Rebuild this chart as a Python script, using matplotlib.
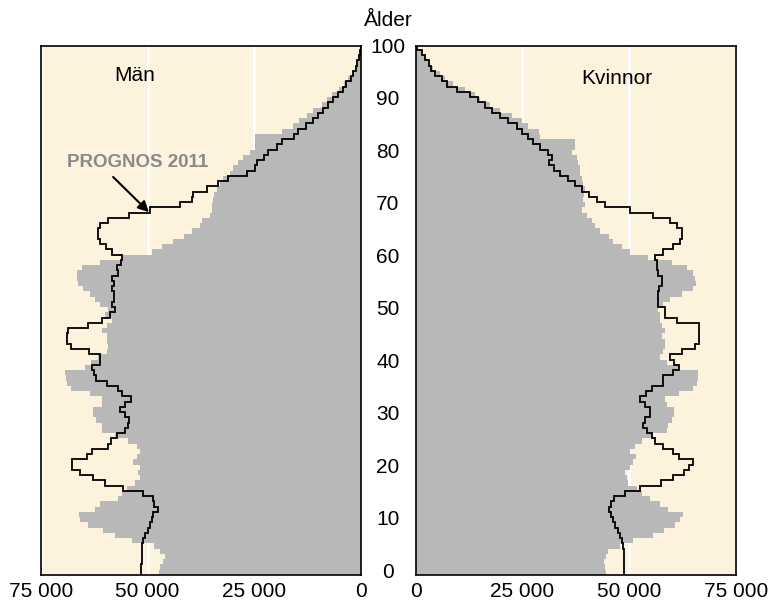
import numpy as np
import matplotlib
matplotlib.use("Agg")
import matplotlib.pyplot as plt
from matplotlib.ticker import FuncFormatter
from matplotlib.transforms import blended_transform_factory

plt.rcParams['font.family'] = ['Liberation Sans', 'DejaVu Sans']

alder = np.arange(0, 101)

# tusental
man_nu = [47.3, 47.0, 46.5, 46.0, 47.0, 48.5, 53.7, 57.7, 60.4, 63.9,
          65.9, 66.1, 62.3, 61.2, 56.9, 56.1, 54.9, 53.0, 51.8, 52.2,
          51.8, 53.4, 52.6, 51.8, 52.6, 54.5, 57.7, 60.8, 60.8, 62.0,
          62.7, 62.7, 60.8, 60.8, 63.5, 68.0, 69.0, 69.2, 69.4, 64.8,
          63.3, 61.6, 59.6, 59.4, 59.6, 59.6, 60.8, 59.6, 58.3, 60.0,
          59.2, 61.2, 62.3, 63.5, 65.1, 66.3, 66.6, 66.6, 65.5, 61.2,
          56.1, 49.0, 46.7, 44.0, 41.6, 39.7, 37.7, 37.3, 35.4, 35.0,
          35.0, 34.8, 34.5, 33.7, 33.0, 32.3, 30.7, 29.9, 28.75, 27.7,
          26.0, 24.8, 24.8, 24.8, 18.6, 16.0, 14.5, 12.7, 11.3, 9.2,
          8.0, 6.9, 5.1, 4.0, 3.0, 2.2, 1.4, 1.0, 0.6, 0.4, 0.2]

man_prognos = [51.6, 51.6, 51.4, 51.4, 51.4, 51.4, 51.0, 50.6, 50.0, 49.5,
               49.0, 48.8, 47.5, 48.4, 48.8, 51.2, 55.7, 60.0, 62.7, 65.9,
               67.7, 67.7, 64.3, 63.0, 59.2, 58.6, 57.3, 55.2, 54.7, 54.4,
               55.2, 56.5, 55.3, 53.9, 55.9, 56.9, 59.6, 62.0, 62.5, 63.1,
               61.2, 61.2, 63.7, 68.0, 68.9, 68.9, 68.6, 64.1, 60.8, 58.8,
               57.7, 58.3, 57.8, 58.0, 58.4, 57.8, 58.3, 56.9, 57.3, 56.3,
               56.1, 58.4, 59.8, 61.2, 61.6, 61.7, 61.2, 59.2, 54.4, 49.5,
               42.4, 39.7, 39.3, 36.2, 33.4, 31.1, 26.8, 24.8, 24.3, 22.7,
               21.7, 19.8, 18.4, 15.7, 14.7, 13.0, 11.2, 10.0, 8.8, 7.7,
               6.6, 5.5, 4.3, 3.5, 2.4, 1.8, 1.2, 0.9, 0.55, 0.3, 0.1]

kvinnor_nu = [44.6, 44.4, 44.1, 44.6, 45.1, 47.9, 51.0, 55.7, 58.2, 60.8,
              62.0, 62.7, 59.2, 57.3, 54.9, 53.0, 51.8, 49.8, 49.6, 49.0,
              50.2, 51.0, 51.6, 50.2, 51.4, 53.0, 55.3, 58.8, 59.2, 60.0,
              60.5, 60.5, 58.8, 58.4, 61.6, 65.1, 65.9, 66.2, 66.2, 61.6,
              58.8, 57.3, 58.0, 58.4, 58.4, 57.7, 58.4, 57.7, 57.3, 57.3,
              56.9, 58.0, 59.6, 62.3, 65.1, 65.7, 65.5, 64.9, 63.5, 60.0,
              54.5, 50.2, 48.3, 46.3, 45.2, 43.2, 42.0, 41.3, 40.1, 38.9,
              39.7, 39.1, 39.5, 39.7, 39.1, 38.9, 38.5, 38.5, 38.1, 37.7,
              36.6, 37.3, 37.3, 29.1, 28.8, 26.4, 24.8, 22.5, 19.8, 17.4,
              15.1, 13.9, 11.6, 8.8, 6.9, 5.7, 4.1, 3.2, 2.4, 1.4, 0.6]

kvinnor_prognos = [48.8, 48.8, 48.8, 48.8, 48.8, 48.5, 48.3, 47.9, 47.5, 46.7,
                   46.2, 45.7, 45.4, 45.8, 46.5, 49.0, 52.6, 57.4, 60.2, 62.9,
                   64.1, 65.1, 61.8, 60.4, 58.0, 56.0, 55.3, 54.1, 53.2, 53.75,
                   54.8, 54.8, 53.75, 52.6, 54.0, 55.3, 58.0, 58.0, 60.4, 61.6,
                   60.5, 59.6, 62.3, 65.5, 66.3, 66.3, 66.3, 66.3, 61.2, 58.4,
                   58.4, 56.9, 56.9, 56.9, 57.1, 57.7, 57.7, 56.9, 56.5, 56.5,
                   56.1, 58.0, 60.4, 61.9, 62.3, 62.3, 61.2, 59.6, 55.7, 50.2,
                   44.4, 42.4, 40.5, 38.9, 37.3, 35.8, 33.8, 32.3, 31.3, 31.9,
                   31.1, 29.1, 27.6, 26.4, 24.8, 23.7, 21.7, 19.8, 17.8, 16.3,
                   14.7, 12.7, 9.6, 7.3, 6.1, 4.5, 3.5, 3.0, 2.2, 1.4, 0.2]

x_ticks = [0, 25000, 50000, 75000]
y_ticks = list(range(0, 101, 10))

bakgrund = '#fdf2dc'
gra = '#b8b8b8'

fig = plt.figure(figsize=(7.73, 6.02), dpi=100)
ax_m = fig.add_axes([41 / 773, 27 / 602, 320 / 773, 529.3 / 602])
ax_k = fig.add_axes([415.7 / 773, 27 / 602, 320 / 773, 529.3 / 602])

kanter = np.arange(-0.5, 101.5, 1)
fmt = FuncFormatter(lambda v, p: f"{int(v):,}".replace(",", " "))

for ax, nu, prog in [(ax_m, man_nu, man_prognos), (ax_k, kvinnor_nu, kvinnor_prognos)]:
    ax.set_facecolor(bakgrund)
    ax.set_axisbelow(True)
    ax.grid(axis='x', color='white', linewidth=2)
    ax.grid(axis='y', visible=False)
    ax.barh(alder, np.array(nu) * 1000, height=1.0, color=gra, linewidth=0)
    ax.stairs(np.array(prog) * 1000, kanter, orientation='horizontal',
              baseline=None, color='black', linewidth=1.3)
    ax.set_ylim(-0.5, 100.3)
    ax.set_xticks(x_ticks)
    ax.xaxis.set_major_formatter(fmt)
    ax.set_yticks([])
    ax.tick_params(axis='x', length=0, labelsize=15, pad=5)
    for s in ax.spines.values():
        s.set_color('black')
        s.set_linewidth(1.2)

ax_m.set_xlim(75000, 0)
ax_k.set_xlim(0, 75000)

# åldersskala i mitten
mitt = blended_transform_factory(fig.transFigure, ax_k.transData)
for a in y_ticks:
    ax_k.text(388 / 773, a, str(a), fontsize=15, ha='center', va='center',
              transform=mitt, clip_on=False)
fig.text(388 / 773, 1 - 20 / 602, 'Ålder', fontsize=15, ha='center', va='center')

ax_m.text(53000, 94.7, 'Män', fontsize=15, ha='center', va='center')
ax_k.text(47200, 94.0, 'Kvinnor', fontsize=15, ha='center', va='center')

ax_m.annotate('', xy=(49700, 68.6), xytext=(58100, 75.3),
              arrowprops=dict(arrowstyle='-|>', color='black', lw=1.5,
                              mutation_scale=16, shrinkA=0, shrinkB=0))
ax_m.text(52300, 78.0, 'PROGNOS 2011', fontsize=13.5, fontweight='bold',
          color='#8a8a8a', ha='center', va='center')

fig.savefig('out.png', dpi=100)
